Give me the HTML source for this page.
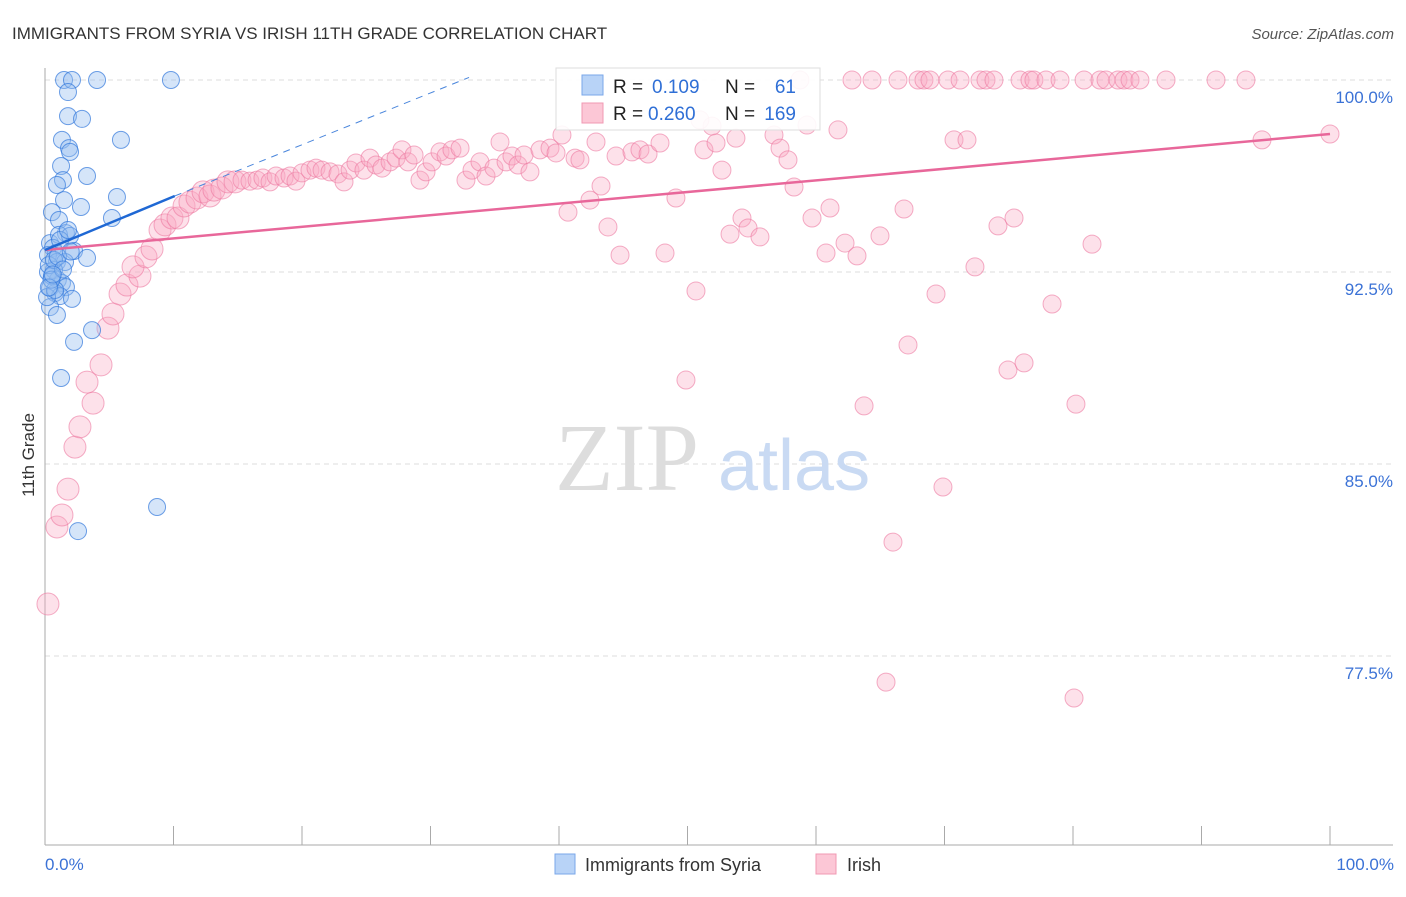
<!DOCTYPE html>
<html><head><meta charset="utf-8"><style>
html,body{margin:0;padding:0;background:#fff;}
body{width:1406px;height:892px;overflow:hidden;font-family:"Liberation Sans",sans-serif;}
</style></head><body>
<svg id="chart" width="1406" height="892" xmlns="http://www.w3.org/2000/svg">
<text x="12" y="39" font-size="17" fill="#333">IMMIGRANTS FROM SYRIA VS IRISH 11TH GRADE CORRELATION CHART</text>
<text x="1394" y="39" font-size="15" fill="#555" text-anchor="end" font-style="italic">Source: ZipAtlas.com</text>
<g id="grid"></g>
<text x="555" y="490" font-size="96" fill="#ddd" font-family="Liberation Serif,serif">ZIP</text>
<text x="718" y="490" font-size="72" fill="#c9daf3">atlas</text>
<g id="pts"></g>
<g id="trends"></g>
<text transform="translate(34,455) rotate(-90)" font-size="17" fill="#333" text-anchor="middle">11th Grade</text>
<text x="45" y="870" font-size="17" fill="#3b72d6">0.0%</text>
<text x="1394" y="870" font-size="17" fill="#3b72d6" text-anchor="end">100.0%</text>
<g>
<rect x="556" y="68" width="264" height="62" fill="#fff" fill-opacity="0.9" stroke="#ddd"/>
<rect x="582" y="75" width="21" height="20" fill="#b8d3f7" stroke="#7aa7ea"/>
<rect x="582" y="103" width="21" height="20" fill="#fcc7d6" stroke="#f098b3"/>
<text x="613" y="93" font-size="19" fill="#222">R =</text>
<text x="652" y="93" font-size="19" fill="#2f6fd6">0.109</text>
<text x="725" y="93" font-size="19" fill="#222">N =</text>
<text x="796" y="93" font-size="19" fill="#2f6fd6" text-anchor="end">61</text>
<text x="613" y="120" font-size="19" fill="#222">R =</text>
<text x="648" y="120" font-size="19" fill="#2f6fd6">0.260</text>
<text x="725" y="120" font-size="19" fill="#222">N =</text>
<text x="796" y="120" font-size="19" fill="#2f6fd6" text-anchor="end">169</text>
</g>
<g>
<rect x="555" y="854" width="20" height="20" fill="#b8d3f7" stroke="#7aa7ea"/>
<text x="585" y="871" font-size="18" fill="#333">Immigrants from Syria</text>
<rect x="816" y="854" width="20" height="20" fill="#fcc7d6" stroke="#f098b3"/>
<text x="847" y="871" font-size="18" fill="#333">Irish</text>
</g>
</svg>
<script>
const yTicks=[100,92.5,85,77.5];
const yTickLabels=["100.0%","92.5%","85.0%","77.5%"];
const xTicks=[0,10,20,30,40,50,60,70,80,90,100];
const syriaX=[1.48,2.1,4.05,9.8,1.79,1.79,2.88,1.32,1.87,1.95,5.91,1.25,3.27,1.4,0.93,5.6,1.48,2.8,0.54,5.21,1.09,1.63,0.39,1.09,1.95,0.62,0.86,2.26,3.27,0.23,0.93,1.56,0.23,0.7,1.0,1.32,0.39,1.63,0.78,1.17,2.1,0.39,0.93,3.66,2.26,1.25,8.72,2.57,0.16,0.54,0.78,1.17,1.79,0.3,0.7,0.5,1.0,1.4,0.3,0.6,2.0];
const syriaY=[100,100,100,100,99.53,98.59,98.48,97.66,97.34,97.19,97.66,96.64,96.25,96.09,95.9,95.43,95.31,95.04,94.84,94.61,94.53,94.02,93.63,93.95,93.91,93.44,93.24,93.32,93.05,93.16,92.89,92.89,92.5,92.58,92.19,92.07,91.88,91.91,91.68,91.56,91.45,91.13,90.82,90.23,89.77,88.36,83.32,82.38,91.52,92.34,91.8,93.75,94.14,92.77,92.97,92.2,93.1,92.6,91.9,92.4,93.3];
const irishX=[0.23,0.93,1.32,1.79,2.33,2.72,3.74,3.27,4.36,4.9,5.29,5.84,6.38,7.39,6.85,7.86,8.33,8.95,9.34,9.88,10.35,10.82,11.28,11.83,12.3,12.84,13.15,13.77,14.24,14.79,15.33,15.95,16.5,16.96,17.51,17.98,18.6,19.07,19.53,20.0,20.62,21.09,21.56,22.18,22.8,23.27,23.74,24.2,24.82,25.29,25.76,26.23,26.85,27.32,27.78,28.25,28.72,29.18,29.65,30.12,30.74,31.21,31.67,32.3,32.76,33.23,33.85,34.32,34.94,35.41,35.88,36.34,36.81,37.28,37.74,38.52,39.3,39.77,40.23,40.7,41.25,41.63,42.41,42.88,43.27,43.81,44.44,44.75,45.68,46.3,46.93,47.86,48.25,49.1,49.88,50.66,51.28,51.91,52.22,52.68,53.31,53.77,54.24,54.71,55.64,56.73,57.2,57.82,58.29,58.75,59.3,59.69,60.78,61.09,61.71,62.26,62.8,63.19,63.74,64.36,64.98,65.45,65.99,66.38,66.85,67.16,67.94,68.4,68.87,69.34,69.88,70.27,70.74,71.21,71.75,72.37,72.76,73.23,73.85,74.16,74.94,75.41,75.88,76.19,76.65,76.96,77.9,78.37,78.99,80.08,80.23,80.86,81.48,82.1,82.57,83.5,83.97,84.44,85.21,87.24,91.13,93.46,94.71,100,50.97];
const irishY=[79.53,82.54,83.01,84.02,85.66,86.45,87.38,88.2,88.87,90.31,90.86,91.64,91.99,92.34,92.7,93.09,93.4,94.14,94.34,94.61,94.61,95.08,95.23,95.39,95.63,95.47,95.7,95.78,96.02,96.02,96.09,96.05,96.09,96.17,96.02,96.25,96.17,96.25,96.05,96.37,96.48,96.56,96.48,96.41,96.33,96.02,96.48,96.76,96.48,96.95,96.68,96.56,96.8,96.95,97.27,96.8,97.07,96.09,96.41,96.8,97.19,97.03,97.27,97.34,96.09,96.48,96.8,96.25,96.56,97.58,96.8,97.03,96.68,97.07,96.41,97.27,97.34,97.15,97.85,94.84,96.95,96.88,95.31,97.58,95.86,94.26,97.03,93.16,97.19,97.27,97.11,97.54,93.24,95.39,88.28,91.76,97.27,98.2,97.54,96.48,93.98,97.73,94.61,94.22,93.87,97.85,97.34,96.88,95.82,100,98.24,94.61,93.24,95.0,98.05,93.63,100,93.13,87.27,100,93.91,76.48,81.95,100,94.96,89.65,100,100,100,91.64,84.1,100,97.66,100,97.66,92.7,100,100,100,94.3,88.67,94.61,100,88.95,100,100,100,91.25,100,75.86,87.34,100,93.59,100,100,100,100,100,100,100,100,100,97.66,97.89,98.44];
const syriaTrend=[[0,93.36],[10.1,95.47]];
const syriaTrendExt=[[10.1,95.47],[33,100.1]];
const irishTrend=[[0,93.36],[100,97.89]];

const X0=45,X1=1330,Y100=80,PXPER=25.6,YBOT=845;
const sx=v=>X0+(X1-X0)*v/100;
const sy=v=>Y100+(100-v)*PXPER;
const NS="http://www.w3.org/2000/svg";
function mk(tag,parent){const e=document.createElementNS(NS,tag);parent.appendChild(e);return e;}
const grid=document.getElementById('grid');
yTicks.forEach((t,i)=>{
  const l=mk('line',grid);
  
  
  l.setAttribute('x1',X0);l.setAttribute('x2',1393);l.setAttribute('y1',sy(t));l.setAttribute('y2',sy(t));
  l.setAttribute('stroke','#ddd');l.setAttribute('stroke-dasharray','5,4');
  const tx=mk('text',grid);
  
  
  tx.setAttribute('x',1393);tx.setAttribute('y',sy(t)+23);tx.setAttribute('text-anchor','end');
  tx.setAttribute('font-size','17');tx.setAttribute('fill','#3b72d6');tx.textContent=yTickLabels[i];
});
const ax=mk('line',grid);


ax.setAttribute('x1',X0);ax.setAttribute('x2',1393);ax.setAttribute('y1',YBOT);ax.setAttribute('y2',YBOT);ax.setAttribute('stroke','#aaa');
const ay=mk('line',grid);


ay.setAttribute('x1',X0);ay.setAttribute('x2',X0);ay.setAttribute('y1',68);ay.setAttribute('y2',YBOT);ay.setAttribute('stroke','#aaa');
xTicks.forEach(t=>{
  const l=mk('line',grid);
  
  
  l.setAttribute('x1',sx(t));l.setAttribute('x2',sx(t));l.setAttribute('y1',826);l.setAttribute('y2',YBOT);l.setAttribute('stroke','#aaa');
});
const pts=document.getElementById('pts');
irishX.forEach((x,i)=>{
  const c=mk('circle',pts);
  
  
  c.setAttribute('cx',sx(x));c.setAttribute('cy',sy(irishY[i]));c.setAttribute('r',x<15?11:9);
  c.setAttribute('fill','rgba(248,170,195,0.35)');c.setAttribute('stroke','rgba(236,120,160,0.6)');
});
syriaX.forEach((x,i)=>{
  const c=mk('circle',pts);
  
  
  c.setAttribute('cx',sx(x));c.setAttribute('cy',sy(syriaY[i]));c.setAttribute('r',8.5);
  c.setAttribute('fill','rgba(150,190,240,0.4)');c.setAttribute('stroke','rgba(50,120,220,0.7)');
});
const tr=document.getElementById('trends');
function line(p,color,w,dash,name){
  const l=mk('line',tr);
  
  
  l.setAttribute('x1',sx(p[0][0]));l.setAttribute('y1',sy(p[0][1]));l.setAttribute('x2',sx(p[1][0]));l.setAttribute('y2',sy(p[1][1]));
  l.setAttribute('stroke',color);l.setAttribute('stroke-width',w);if(dash)l.setAttribute('stroke-dasharray',dash);
}
line(irishTrend,'#e8679a',2.5,null,'irish-trend-line');
line(syriaTrendExt,'#4a86dc',1,'7,6','syria-trend-extension');
line(syriaTrend,'#1f68d4',2.5,null,'syria-trend-line');
</script>
</body></html>
